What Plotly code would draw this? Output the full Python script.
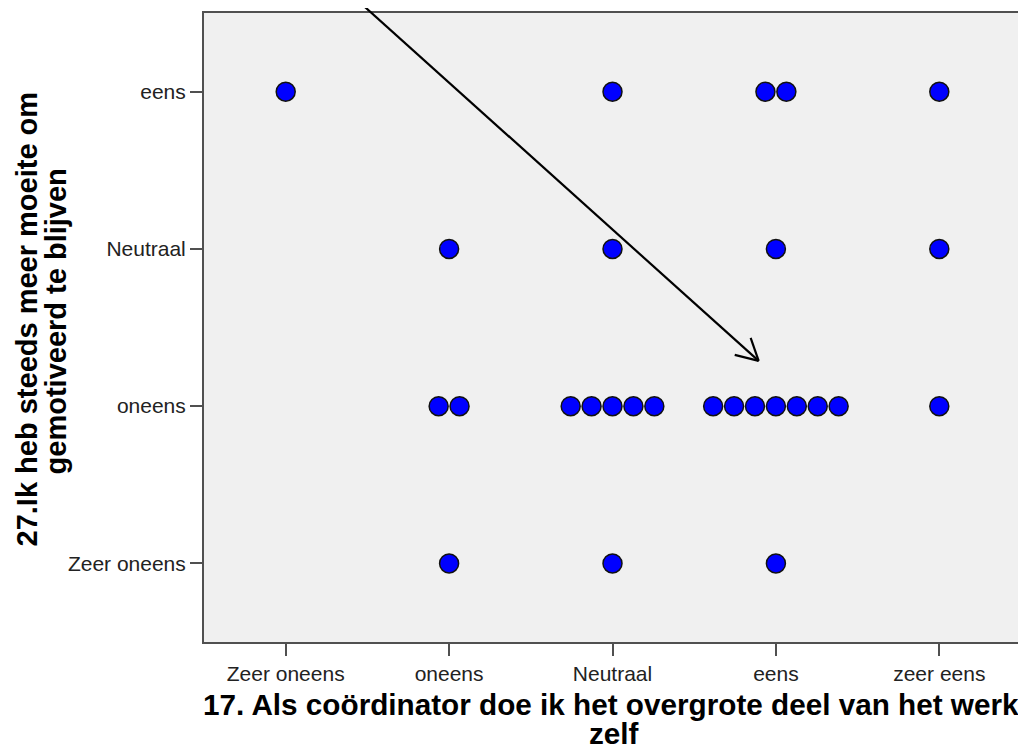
import plotly.graph_objects as go

# answer categories
x_labels = ["Zeer oneens", "oneens", "Neutraal", "eens", "zeer eens"]
y_labels = ["Zeer oneens", "oneens", "Neutraal", "eens"]

# number of respondents per cell, one list per y category (columns follow x_labels)
count_zeer_oneens = [0, 1, 1, 1, 0]
count_oneens = [0, 2, 5, 7, 1]
count_neutraal = [0, 1, 1, 1, 1]
count_eens = [1, 0, 1, 2, 1]

x_title = ["17. Als coördinator doe ik het overgrote deel van het werk", "zelf"]
y_title = ["27.Ik heb steeds meer moeite om", "gemotiveerd te blijven"]

rows = [count_zeer_oneens, count_oneens, count_neutraal, count_eens]
step = 0.128  # dot stacking width, in category units

xs, ys = [], []
for yi, row in enumerate(rows, start=1):
    for xi, n in enumerate(row, start=1):
        for k in range(n):
            xs.append(xi + (k - (n - 1) / 2) * step)
            ys.append(yi)

fig = go.Figure()
fig.add_trace(go.Scatter(
    x=xs, y=ys, mode='markers',
    marker=dict(color='#0000ff', size=19, line=dict(color='#111111', width=1.5)),
    showlegend=False, cliponaxis=False
))

axis_common = dict(
    showgrid=False, zeroline=False, showline=True, mirror=True,
    linecolor='#505050', linewidth=2, ticks='outside', ticklen=12,
    tickcolor='#505050', tickwidth=1.5,
    tickfont=dict(family='Liberation Sans, Arial', size=21, color='#222222'),
)
fig.update_xaxes(range=[0.5, 5.5], tickvals=[1, 2, 3, 4, 5], ticktext=x_labels, **axis_common)
fig.update_yaxes(range=[0.5, 4.5], tickvals=[1, 2, 3, 4], ticktext=y_labels, **axis_common)

title_font = dict(family='Liberation Sans, Arial', size=29, color='#000000')
xtitle_font = dict(family='Liberation Sans, Arial', size=29.7, color='#000000')

# x axis title, two lines with tight spacing
fig.add_annotation(text="<b>" + x_title[0] + "</b>", xref='paper', yref='paper',
                   x=(612 - 204) / 819, y=(642 - 705) / 631, xanchor='center', yanchor='middle',
                   showarrow=False, font=xtitle_font)
fig.add_annotation(text="<b>" + x_title[1] + "</b>", xref='paper', yref='paper',
                   x=(615 - 204) / 819, y=(642 - 734) / 631, xanchor='center', yanchor='middle',
                   showarrow=False, font=xtitle_font)

# y axis title, rotated
fig.add_annotation(text="<b>" + y_title[0] + "</b>", xref='paper', yref='paper',
                   x=(27 - 204) / 819, y=(642 - 318) / 631, xanchor='center', yanchor='middle',
                   showarrow=False, textangle=-90, font=title_font)
fig.add_annotation(text="<b>" + y_title[1] + "</b>", xref='paper', yref='paper',
                   x=(56 - 204) / 819, y=(642 - 320) / 631, xanchor='center', yanchor='middle',
                   showarrow=False, textangle=-90, font=title_font)

# pointing arrow (paper coords)
arrow = dict(type='line', xref='paper', yref='paper', line=dict(color='black', width=2.2))
tip = (0.6789, 0.4469)
fig.add_shape(x0=0.188, y0=1.02, x1=tip[0], y1=tip[1], **arrow)
fig.add_shape(x0=0.6496, y0=0.4564, x1=tip[0], y1=tip[1], **arrow)
fig.add_shape(x0=0.6691, y0=0.4834, x1=tip[0], y1=tip[1], **arrow)

# page body adds an 8px offset, so the figure is 8px smaller and margins shifted
fig.update_layout(
    width=1018, height=741,
    margin=dict(l=196, r=3, t=3, b=107),
    plot_bgcolor='#f0f0f0', paper_bgcolor='white',
)

fig.write_html("out.html")
